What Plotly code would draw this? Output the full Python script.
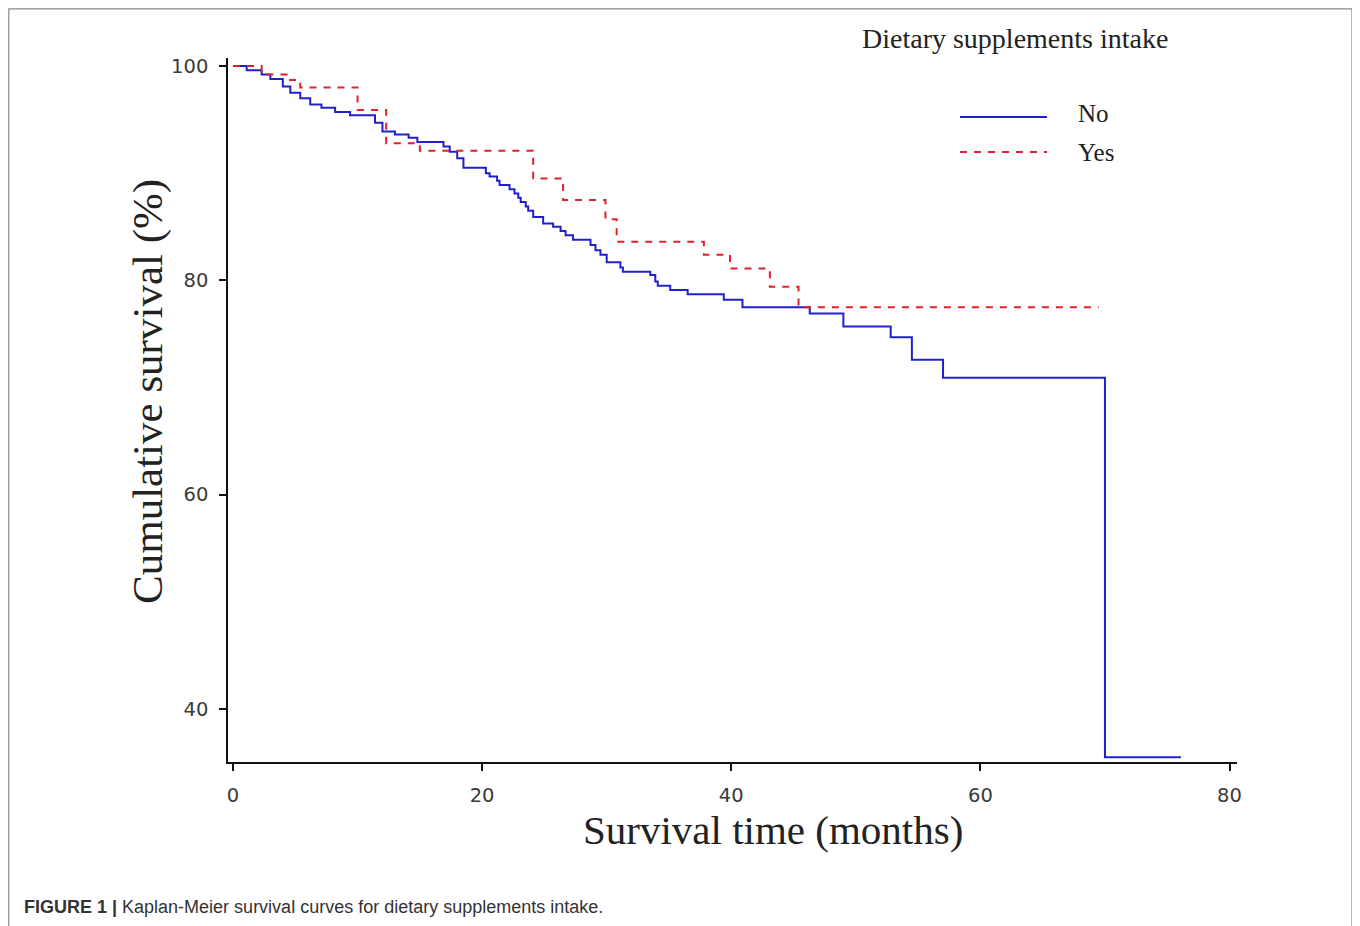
import plotly.graph_objects as go

# Kaplan-Meier steps: time of drop (months) and survival (%) after the drop
no_time = [0, 1.1, 2.3, 3.0, 4.0, 4.6, 5.4, 6.2, 7.1, 8.2, 9.4, 11.4, 12.0, 13.0, 14.1, 14.8,
           16.9, 17.4, 18.0, 18.5, 20.3, 20.6, 21.2, 21.4, 22.2, 22.6, 22.9, 23.1, 23.5, 23.7,
           24.1, 24.9, 25.7, 26.3, 26.7, 27.3, 28.7, 29.1, 29.5, 30.0, 31.1, 31.3, 33.5, 33.9,
           34.1, 35.1, 36.5, 39.4, 40.9, 46.3, 49.0, 52.8, 54.5, 57.0, 70.0, 76.1]
no_surv = [100, 99.6, 99.2, 98.8, 98.1, 97.5, 97.0, 96.4, 96.1, 95.7, 95.4, 94.7, 93.9, 93.6, 93.3, 92.9,
           92.5, 92.0, 91.4, 90.5, 90.0, 89.7, 89.3, 88.9, 88.5, 88.1, 87.7, 87.3, 86.9, 86.5,
           85.9, 85.3, 85.0, 84.6, 84.2, 83.8, 83.3, 82.8, 82.4, 81.7, 81.2, 80.8, 80.5, 79.9,
           79.5, 79.1, 78.7, 78.2, 77.5, 76.9, 75.7, 74.7, 72.6, 70.9, 35.5, 35.5]

yes_time = [0, 2.3, 4.3, 5.4, 10.0, 12.3, 15.0, 24.1, 26.5, 29.9, 30.8, 37.8, 39.9, 43.1, 45.4, 69.5]
yes_surv = [100, 99.2, 98.7, 98.0, 95.9, 92.8, 92.1, 89.5, 87.5, 85.7, 83.6, 82.4, 81.1, 79.4, 77.5, 77.5]

x_ticks = [0, 20, 40, 60, 80]
y_ticks = [40, 60, 80, 100]

BLUE = "#2020cc"
RED = "#e0202c"

# page body has an 8px margin; compensate so the screenshot matches
OFF = 8
W, H = 1360, 926
L, R, T, B = 228 - OFF, W - (1237 - OFF), 58 - OFF, H - (762 - OFF)


def px2paper(px, py):
    px -= OFF
    py -= OFF
    return (px - L) / (W - L - R), (H - B - py) / (H - T - B)


fig = go.Figure()
fig.add_trace(go.Scatter(x=no_time, y=no_surv, mode="lines", line_shape="hv",
                         line=dict(color=BLUE, width=2), name="No", showlegend=False))
fig.add_trace(go.Scatter(x=yes_time, y=yes_surv, mode="lines", line_shape="hv",
                         line=dict(color=RED, width=2, dash="7px,7px"), name="Yes", showlegend=False))

tickfont = dict(family="DejaVu Sans", size=19.5, color="#3a3a3a")
fig.update_xaxes(range=[-0.4, 80.6], tickvals=x_ticks, showline=True, linecolor="#111111", linewidth=1.5,
                 ticks="outside", ticklen=7, tickcolor="#111111", tickwidth=1.5, showgrid=False,
                 zeroline=False, tickfont=tickfont, ticklabelstandoff=8)
fig.update_yaxes(range=[35.05, 100.75], tickvals=y_ticks, showline=True, linecolor="#111111", linewidth=1.5,
                 ticks="outside", ticklen=7, tickcolor="#111111", tickwidth=1.5, showgrid=False,
                 zeroline=False, tickfont=tickfont, ticklabelstandoff=7)

serif = dict(family="Liberation Serif", color="#222222")
annotations = [
    dict(text="Survival time (months)", x=773, y=830, font=dict(size=41, **serif)),
    dict(text="Cumulative survival (%)", x=148, y=392, textangle=-90, font=dict(size=43, **serif)),
    dict(text="Dietary supplements intake", x=1015, y=38, font=dict(size=28, **serif)),
    dict(text="No", x=1076, y=113, xanchor="left", font=dict(size=25, **serif)),
    dict(text="Yes", x=1076, y=153, xanchor="left", font=dict(size=25, **serif)),
    dict(text="<b>FIGURE 1 |</b> Kaplan-Meier survival curves for dietary supplements intake.",
         x=22, y=907, xanchor="left",
         font=dict(family="Liberation Sans", size=18, color="#333333")),
]
ann_list = []
for a in annotations:
    a = dict(a)
    a["x"], a["y"] = px2paper(a["x"], a["y"])
    a.setdefault("xanchor", "center")
    a["yanchor"] = "middle"
    a["xref"] = "paper"
    a["yref"] = "paper"
    a["showarrow"] = False
    ann_list.append(a)

shapes = []
x0, y0 = px2paper(960, 117)
x1, _ = px2paper(1047, 117)
shapes.append(dict(type="line", xref="paper", yref="paper", x0=x0, x1=x1, y0=y0, y1=y0,
                   line=dict(color=BLUE, width=2)))
x0, y0 = px2paper(960, 152)
x1, _ = px2paper(1047, 152)
shapes.append(dict(type="line", xref="paper", yref="paper", x0=x0, x1=x1, y0=y0, y1=y0,
                   line=dict(color=RED, width=2, dash="7px,7px")))
# outer figure frame
fx0, fy0 = px2paper(8.8, 8.8)
fx1, fy1 = px2paper(1352, 950)
shapes.append(dict(type="rect", xref="paper", yref="paper", x0=fx0, x1=fx1, y0=fy1, y1=fy0,
                   line=dict(color="#888888", width=1.2), layer="below"))

fig.update_layout(width=W, height=H, margin=dict(l=L, r=R, t=T, b=B),
                  paper_bgcolor="white", plot_bgcolor="white",
                  annotations=ann_list, shapes=shapes, showlegend=False)

fig.write_html("out.html")
